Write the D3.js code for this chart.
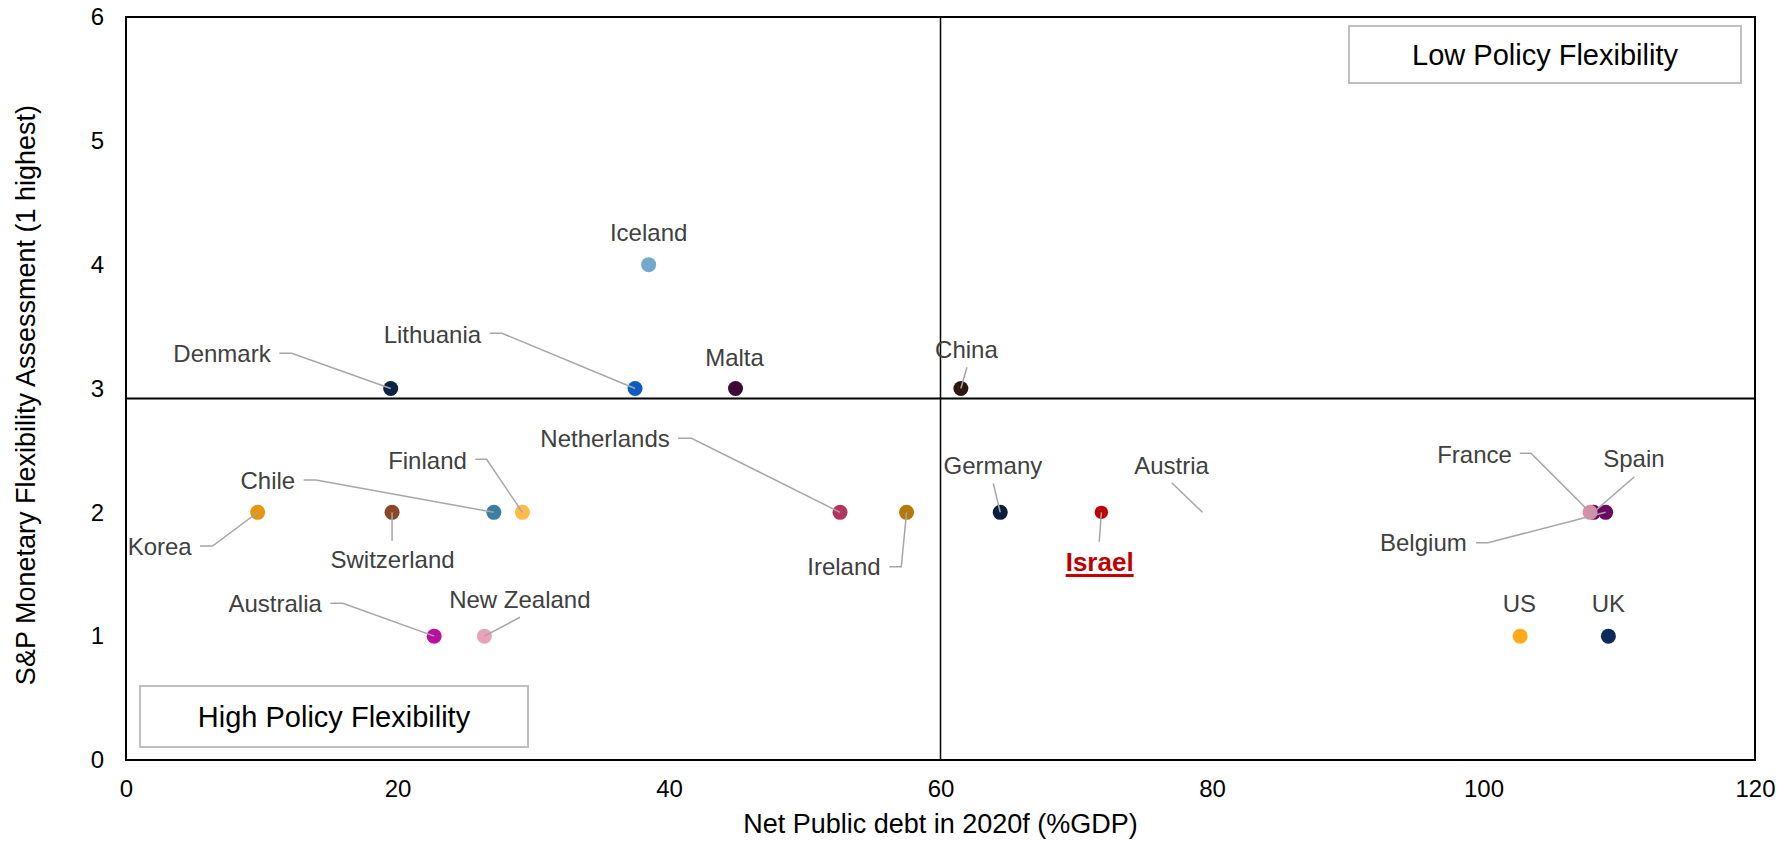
<!DOCTYPE html>
<html>
<head>
<meta charset="utf-8">
<script src="https://cdn.jsdelivr.net/npm/d3@7"></script>
<style>
  html, body { margin: 0; padding: 0; background: #ffffff; }
  svg { display: block; font-family: "Liberation Sans", Arial, sans-serif; }
</style>
</head>
<body>
<svg id="chart" width="1790" height="842"></svg>
<script>
// Country data: net public debt 2020f (%GDP) and S&P monetary flexibility assessment
const countries = ["Korea", "Switzerland", "Chile", "Finland", "Denmark", "Lithuania", "Iceland", "Malta",
  "China", "Netherlands", "Ireland", "Germany", "Israel", "Austria", "Spain", "France", "Belgium",
  "US", "UK", "Australia", "New Zealand"];
const netDebt = [9.7, 19.6, 27.1, 29.2, 19.5, 37.5, 38.5, 44.9,
  61.5, 52.6, 57.5, 64.4, 71.85, 79.3, 108.1, 107.85, 109.0,
  102.7, 109.2, 22.7, 26.4];
const flexAssessment = [2, 2, 2, 2, 3, 3, 4, 3,
  3, 2, 2, 2, 2, 2, 2, 2, 2,
  1, 1, 1, 1];
const dotColors = ["#E6950E", "#8B4726", "#3C7DA3", "#FFBA47", "#0A2346", "#0B5BC1", "#72AACF", "#3D0A38",
  "#2B1710", "#B2345F", "#B5780A", "#0A1F3D", "#C00000", "none", "#6A0A5E", "#DC8CA8", "#6A0A5E",
  "#FFAA1A", "#0C2A5C", "#BA109F", "#E8A3BA"];

const xTicks = [0, 20, 40, 60, 80, 100, 120];
const yTicks = [0, 1, 2, 3, 4, 5, 6];
const debtThreshold = 60;
const flexThreshold = 2.92;
const xTitle = "Net Public debt in 2020f (%GDP)";
const yTitle = "S&P Monetary Flexibility Assessment (1 highest)";
const quadrantLow = "Low Policy Flexibility";
const quadrantHigh = "High Policy Flexibility";

// Label placement: text centre offset (dx) and baseline offset (dy) from the point,
// plus the leader-line elbow points (pixel offsets from the point)
const labelLayout = {
  "Korea":       { dx: -98,   dy: 42.7,  leader: [[-57.7, 33.7], [-45.2, 33.7]] },
  "Switzerland": { dx: 0.5,   dy: 56,    leader: [[0, 28.4]] },
  "Chile":       { dx: -226,  dy: -23.3, leader: [[-190.3, -32.3], [-177.9, -32.3]] },
  "Finland":     { dx: -94.9, dy: -43,   leader: [[-47, -53], [-35.8, -53]] },
  "Denmark":     { dx: -168.7,dy: -26.8, leader: [[-111.4, -35.2], [-99, -35.2]] },
  "Lithuania":   { dx: -202.7,dy: -45.2, leader: [[-145.4, -55.2], [-133.1, -55.2]] },
  "Iceland":     { dx: 0,     dy: -24 },
  "Malta":       { dx: -1,    dy: -22.8 },
  "China":       { dx: 5.6,   dy: -30.2, leader: [[6.1, -21.2]] },
  "Netherlands": { dx: -235,  dy: -65.6, leader: [[-162, -74], [-148.5, -74]] },
  "Ireland":     { dx: -62.6, dy: 62.7,  leader: [[-17.3, 54.4], [-5.3, 54.4]] },
  "Germany":     { dx: -7.3,  dy: -38.3, leader: [[-6.9, -29]] },
  "Israel":      { dx: -1.7,  dy: 58.7,  leader: [[-2.1, 29.4]], highlight: true },
  "Austria":     { dx: -31,   dy: -38.3, leader: [[-30.8, -29.6]] },
  "Spain":       { dx: 40.5,  dy: -45.6, leader: [[41, -35.6]] },
  "France":      { dx: -115.5,dy: -49.6, leader: [[-70.3, -59], [-59.1, -59]] },
  "Belgium":     { dx: -182.3,dy: 38.4,  leader: [[-129.8, 30.4], [-117.8, 30.4]] },
  "US":          { dx: -0.8,  dy: -24.5 },
  "UK":          { dx: 0,     dy: -24.5 },
  "Australia":   { dx: -159,  dy: -23.9, leader: [[-103.8, -32.9], [-91.3, -32.9]] },
  "New Zealand": { dx: 35.5,  dy: -28.5, leader: [[35.6, -18.9]] }
};

const svg = d3.select("#chart");
const margin = { left: 126, right: 1755, top: 17, bottom: 760 };

const x = d3.scaleLinear().domain([0, 120]).range([margin.left, margin.right]);
const y = d3.scaleLinear().domain([0, 6]).range([margin.bottom, margin.top]);

const points = countries.map((name, i) => ({
  name, debt: netDebt[i], flex: flexAssessment[i], color: dotColors[i], layout: labelLayout[name]
}));

// Axes (labels only, no tick marks)
const xAxis = svg.append("g")
  .attr("transform", `translate(0,${margin.bottom})`)
  .call(d3.axisBottom(x).tickValues(xTicks).tickSize(0).tickPadding(20).tickFormat(d3.format("d")));
xAxis.select(".domain").remove();
xAxis.selectAll("text").attr("font-size", 24).attr("fill", "#000").attr("font-family", null);

const yAxis = svg.append("g")
  .attr("transform", `translate(${margin.left},0)`)
  .call(d3.axisLeft(y).tickValues(yTicks).tickSize(0).tickPadding(22).tickFormat(d3.format("d")));
yAxis.select(".domain").remove();
yAxis.selectAll("text").attr("font-size", 24).attr("fill", "#000").attr("font-family", null);

// Axis titles
svg.append("text")
  .attr("x", (margin.left + margin.right) / 2)
  .attr("y", 833)
  .attr("text-anchor", "middle")
  .attr("font-size", 27)
  .attr("fill", "#000")
  .text(xTitle);

svg.append("text")
  .attr("transform", `translate(35,395) rotate(-90)`)
  .attr("text-anchor", "middle")
  .attr("font-size", 27)
  .attr("fill", "#000")
  .text(yTitle);

// Quadrant annotation boxes
function quadrantBox(x0, y0, x1, y1, label) {
  svg.append("rect")
    .attr("x", x0).attr("y", y0)
    .attr("width", x1 - x0).attr("height", y1 - y0)
    .attr("fill", "#fff")
    .attr("stroke", "#BFBFBF")
    .attr("stroke-width", 2);
  svg.append("text")
    .attr("x", (x0 + x1) / 2)
    .attr("y", (y0 + y1) / 2)
    .attr("dy", "0.35em")
    .attr("text-anchor", "middle")
    .attr("font-size", 29)
    .attr("fill", "#000")
    .text(label);
}
quadrantBox(1349, 26, 1741, 83, quadrantLow);
quadrantBox(140, 686, 528, 747, quadrantHigh);

// Quadrant dividers
svg.append("line")
  .attr("x1", x(debtThreshold)).attr("x2", x(debtThreshold))
  .attr("y1", margin.top).attr("y2", margin.bottom)
  .attr("stroke", "#000").attr("stroke-width", 1.5);
svg.append("line")
  .attr("x1", margin.left).attr("x2", margin.right)
  .attr("y1", y(flexThreshold)).attr("y2", y(flexThreshold))
  .attr("stroke", "#000").attr("stroke-width", 2);

// Plot frame
svg.append("rect")
  .attr("x", margin.left).attr("y", margin.top)
  .attr("width", margin.right - margin.left)
  .attr("height", margin.bottom - margin.top)
  .attr("fill", "none")
  .attr("stroke", "#000")
  .attr("stroke-width", 2);

// Points
svg.append("g").selectAll("circle")
  .data(points)
  .join("circle")
  .attr("cx", d => x(d.debt))
  .attr("cy", d => y(d.flex))
  .attr("r", d => d.layout.highlight ? 6.7 : 7.5)
  .attr("fill", d => d.color);

// Leader lines
svg.append("g").selectAll("polyline")
  .data(points.filter(d => d.layout.leader))
  .join("polyline")
  .attr("points", d => {
    const px = x(d.debt), py = y(d.flex);
    return d.layout.leader.map(p => [px + p[0], py + p[1]]).concat([[px, py]]).map(p => p.join(",")).join(" ");
  })
  .attr("fill", "none")
  .attr("stroke", "#A6A6A6")
  .attr("stroke-width", 1.5);

// Labels
const labels = svg.append("g").selectAll("text")
  .data(points)
  .join("text")
  .attr("x", d => x(d.debt) + d.layout.dx)
  .attr("y", d => y(d.flex) + d.layout.dy)
  .attr("text-anchor", "middle")
  .attr("font-size", d => d.layout.highlight ? 26 : 24)
  .attr("font-weight", d => d.layout.highlight ? "bold" : null)
  .attr("fill", d => d.layout.highlight ? "#C00000" : "#404040")
  .text(d => d.name);

// Underline for the highlighted country
labels.filter(d => d.layout.highlight).each(function(d) {
  const w = this.getComputedTextLength();
  const cx = x(d.debt) + d.layout.dx;
  svg.append("rect")
    .attr("x", cx - w / 2)
    .attr("y", y(d.flex) + d.layout.dy + 3)
    .attr("width", w)
    .attr("height", 3)
    .attr("fill", "#C00000");
});
</script>
</body>
</html>
